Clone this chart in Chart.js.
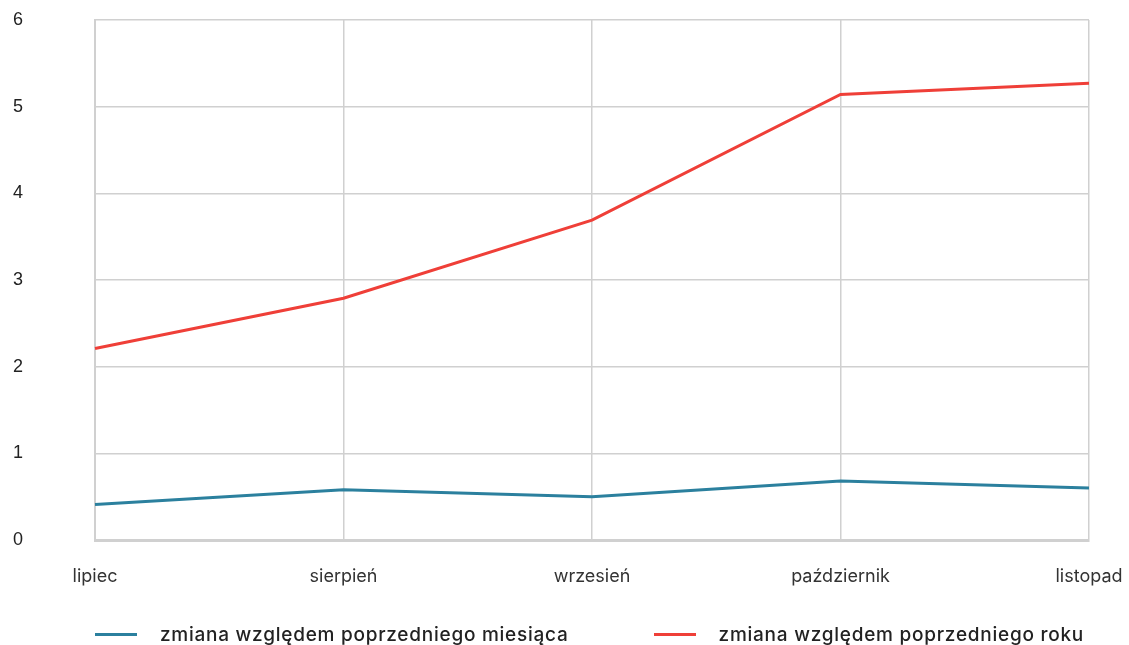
<!DOCTYPE html>
<html>
<head>
<meta charset="utf-8">
<script src="https://cdn.jsdelivr.net/npm/chart.js@4/dist/chart.umd.min.js"></script>
<style>
  html, body { margin: 0; padding: 0; background: #fff; }
  #wrap { position: relative; width: 1129px; height: 645px; }
  #legend {
    position: absolute; left: 95px; top: 621px; height: 26px;
    display: flex; align-items: center; gap: 85px;
    font-family: Inter, "Open Sans", sans-serif; font-weight: 500;
    font-size: 19px; letter-spacing: 0.75px; color: #222;
  }
  .item { display: flex; align-items: center; white-space: nowrap; }
  .swatch { width: 42px; height: 3px; margin-right: 23px; }
</style>
</head>
<body>
<div id="wrap">
  <canvas id="c" width="1129" height="645"></canvas>
  <div id="legend"></div>
</div>
<script>
const months = ['lipiec', 'sierpień', 'wrzesień', 'październik', 'listopad'];
const monthOnMonth = [0.41, 0.58, 0.50, 0.68, 0.60];
const yearOnYear = [2.21, 2.79, 3.69, 5.14, 5.27];
const seriesNames = ['zmiana względem poprzedniego miesiąca', 'zmiana względem poprzedniego roku'];
const seriesColors = ['#2b809e', '#ef3f38'];
const yTicks = [0, 1, 2, 3, 4, 5, 6];

const chart = new Chart(document.getElementById('c'), {
  type: 'line',
  data: {
    labels: months,
    datasets: [
      { label: seriesNames[0], data: monthOnMonth, borderColor: seriesColors[0], backgroundColor: seriesColors[0] },
      { label: seriesNames[1], data: yearOnYear, borderColor: seriesColors[1], backgroundColor: seriesColors[1] }
    ]
  },
  options: {
    responsive: false,
    animation: false,
    layout: { padding: { top: 20, left: 13, right: 40, bottom: 50 } },
    elements: {
      line: { borderWidth: 3, tension: 0 },
      point: { radius: 0, hoverRadius: 0 }
    },
    plugins: { legend: { display: false }, tooltip: { enabled: false } },
    scales: {
      x: {
        offset: false,
        afterFit: (s) => { s.height = 55; s.paddingLeft = 0; s.paddingRight = 0; },
        grid: { color: '#d0d0d0', lineWidth: 1.5, drawTicks: false },
        border: { color: '#d0d0d0', width: 3 },
        ticks: {
          padding: 26, color: '#333', maxRotation: 0,
          font: { family: 'Inter, "Open Sans", sans-serif', size: 18 }
        }
      },
      y: {
        min: 0, max: 6,
        afterBuildTicks: (axis) => { axis.ticks = yTicks.map(v => ({ value: v })); },
        // keep the wide label gap without letting it widen the axis box
        afterFit: (s) => { s.width = 82; s.paddingTop = 0; s.paddingBottom = 0; },
        grid: { color: '#d0d0d0', lineWidth: 1.5, drawTicks: false },
        border: { color: '#d0d0d0', width: 2 },
        ticks: {
          padding: 72, color: '#222',
          font: { family: '"Liberation Sans", Arial, sans-serif', size: 18 }
        }
      }
    }
  }
});

// Legend built from the chart's own datasets
const legend = document.getElementById('legend');
chart.data.datasets.forEach(ds => {
  const item = document.createElement('div');
  item.className = 'item';
  const sw = document.createElement('span');
  sw.className = 'swatch';
  sw.style.background = ds.borderColor;
  const txt = document.createElement('span');
  txt.textContent = ds.label;
  item.appendChild(sw);
  item.appendChild(txt);
  legend.appendChild(item);
});
</script>
</body>
</html>
